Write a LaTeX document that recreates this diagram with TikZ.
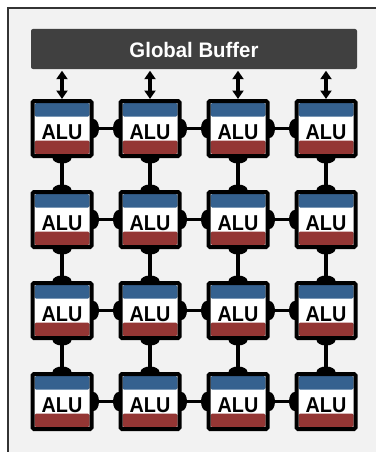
\documentclass[tikz,border=0pt]{standalone}
\usepackage{fontspec}
\usetikzlibrary{arrows.meta,backgrounds}
\newfontfamily\alufont{Liberation Sans}[FakeStretch=0.92]
\newfontfamily\buffont{Liberation Sans}[FakeStretch=0.97]
\definecolor{frameFill}{HTML}{F2F2F2}
\definecolor{frameLine}{HTML}{333333}
\definecolor{bufFill}{HTML}{404040}
\definecolor{aluBlue}{HTML}{35618F}
\definecolor{aluRed}{HTML}{943634}
\tikzset{
  alubox/.style={draw=black, line width=4pt, rounded corners=1.5pt,
    fill=white, minimum width=59pt, minimum height=55pt, inner sep=0pt,
    text height=21pt, text depth=0pt,
    font=\alufont\bfseries\fontsize{21.5}{21.5}\selectfont,
    path picture={
      \fill[aluBlue] ([xshift=2pt,yshift=-2pt]path picture bounding box.north west) rectangle
        ([xshift=-2pt,yshift=-15.5pt]path picture bounding box.north east);
      \fill[aluRed] ([xshift=2pt,yshift=2pt]path picture bounding box.south west) rectangle
        ([xshift=-2pt,yshift=15.5pt]path picture bounding box.south east);
    }},
  bufbox/.style={fill=bufFill, rounded corners=2pt, minimum width=326pt,
    minimum height=40pt, inner sep=0pt, text=white,
    text height=18pt, text depth=0pt,
    font=\buffont\bfseries\fontsize{21}{21}\selectfont},
  link/.style={line width=3.5pt, draw=black},
  hbump/.style={fill=black},
  vbump/.style={fill=black},
  biarrow/.style={line width=3.2pt, draw=black,
    {Triangle[width=11pt,length=8.5pt]}-{Triangle[width=11pt,length=8.5pt]}}
}
\begin{document}
\begin{tikzpicture}[x=1pt,y=-1pt]
\useasboundingbox (0,0) rectangle (375,452);
\clip (0,0) rectangle (375,452);
\node[bufbox] (gb) at (194,49) {Global Buffer};
\foreach \c [count=\i] in {62,150,238,326}{
  \foreach \r [count=\j] in {128.5,219.5,310.5,401.5}{
    \node[alubox] (a\j\i) at (\c,\r) {ALU};
  }
}
\begin{scope}[on background layer]
\fill[white] (0,0) rectangle (375,452);
\filldraw[fill=frameFill, draw=frameLine, line width=1.8pt] (8,8) rectangle (390,470);
\foreach \j in {1,2,3,4}{
  \foreach \i/\k in {1/2,2/3,3/4}{
    \draw[link] (a\j\i.east) -- (a\j\k.west);
    \fill[hbump] (a\j\i.east) ellipse [x radius=5.5pt, y radius=9.5pt];
    \fill[hbump] (a\j\k.west) ellipse [x radius=5.5pt, y radius=9.5pt];
  }
}
\foreach \i in {1,2,3,4}{
  \foreach \j/\k in {1/2,2/3,3/4}{
    \draw[link] (a\j\i.south) -- (a\k\i.north);
    \fill[vbump] (a\j\i.south) ellipse [x radius=9.5pt, y radius=5.5pt];
    \fill[vbump] (a\k\i.north) ellipse [x radius=9.5pt, y radius=5.5pt];
  }
}
\end{scope}
\foreach \i in {1,2,3,4}{
  \draw[biarrow, shorten <=1.5pt] (a1\i.north |- gb.south) -- (a1\i.north);
}
\end{tikzpicture}
\end{document}
